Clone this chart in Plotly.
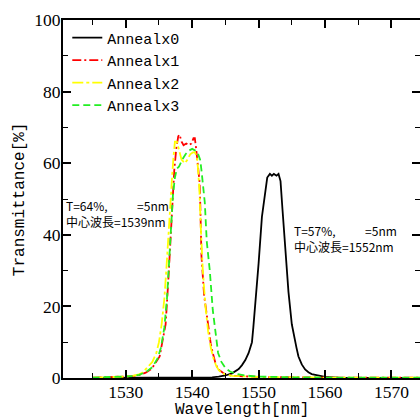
import plotly.graph_objects as go

# Annealx0 (black)
x0 = [1525, 1530, 1535, 1540, 1543, 1544, 1545, 1546, 1547, 1547.5, 1548, 1548.5, 1549, 1549.2, 1549.5,
      1550, 1550.5, 1551, 1551.3, 1551.7, 1552, 1552.3, 1552.7, 1553, 1553.3, 1553.6, 1554, 1554.5,
      1555, 1555.5, 1555.7, 1556, 1556.5, 1557, 1557.5, 1558, 1559, 1560, 1562, 1575]
y0 = [0.0, 0.0, 0.1, 0.1, 0.2, 0.4, 0.7, 1.3, 2.5, 3.6, 5.0, 7.0, 10.0, 14.0, 20.0,
      32.0, 45.0, 53.0, 56.0, 57.0, 56.5, 57.0, 56.5, 57.0, 55.0, 47.0, 36.0, 24.0,
      15.0, 11.0, 8.5, 6.0, 3.8, 2.4, 1.6, 1.1, 0.6, 0.3, 0.1, 0.0]

# Annealx1 (red)
x1 = [1525, 1528, 1530, 1531, 1532, 1533, 1533.9, 1534.7, 1535.1, 1535.6, 1536.0, 1536.4, 1536.7, 1537.0,
      1537.3, 1537.6, 1537.9, 1538.1, 1538.4, 1538.7, 1539.1, 1539.5, 1539.9, 1540.2, 1540.4, 1540.6,
      1540.9, 1541.1, 1541.2, 1541.4, 1541.8, 1542.4, 1542.8, 1543.1, 1543.5, 1543.9, 1544.5, 1545,
      1546, 1548, 1550, 1555, 1560, 1575]
y1 = [0.1, 0.2, 0.3, 0.5, 0.8, 1.5, 2.6, 5.0, 6.0, 11.0, 15.0, 27.0, 38.0, 50.0,
      58.0, 64.0, 67.5, 68.0, 66.0, 65.0, 65.5, 65.0, 65.5, 67.0, 67.0, 64.0,
      59.0, 55.0, 50.0, 34.0, 23.0, 14.0, 9.5, 7.0, 4.2, 2.4, 1.5, 1.0,
      0.6, 0.4, 0.3, 0.2, 0.1, 0.1]

# Annealx2 (yellow)
x2 = [1525, 1528, 1530, 1531, 1532, 1532.6, 1533.2, 1534.0, 1534.6, 1535.0, 1535.4, 1535.8, 1536.1, 1536.4,
      1536.7, 1537.0, 1537.2, 1537.4, 1537.7, 1538.0, 1538.4, 1538.9, 1539.3, 1539.7, 1540.1, 1540.4,
      1540.7, 1540.9, 1541.1, 1541.3, 1541.6, 1542.0, 1542.4, 1542.8, 1543.2, 1543.6, 1544.0, 1544.5,
      1545, 1546, 1548, 1550, 1555, 1560, 1575]
y2 = [0.1, 0.2, 0.4, 0.6, 1.0, 1.6, 2.8, 4.5, 7.0, 10.0, 15.0, 22.0, 30.0, 40.0,
      50.0, 57.0, 62.0, 66.0, 66.0, 64.0, 61.0, 60.0, 61.0, 62.5, 63.0, 63.0,
      62.0, 58.0, 52.0, 42.0, 30.0, 20.0, 13.0, 8.5, 5.5, 3.5, 2.2, 1.4,
      1.0, 0.6, 0.4, 0.3, 0.2, 0.1, 0.1]

# Annealx3 (green)
x3 = [1525, 1528, 1530, 1531, 1532, 1533, 1534, 1534.8, 1535.3, 1535.8, 1536.2, 1536.5, 1536.8, 1537.1,
      1537.4, 1537.7, 1538.0, 1538.5, 1539.0, 1539.5, 1540.0, 1540.5, 1540.9, 1541.2, 1541.4, 1541.9,
      1542.2, 1542.65, 1543.1, 1543.55, 1543.9, 1544.4, 1545.0, 1545.7, 1546.5, 1548, 1550, 1555, 1560, 1575]
y3 = [0.1, 0.2, 0.3, 0.5, 0.9, 1.6, 3.0, 5.5, 8.5, 14.0, 22.0, 31.0, 42.0, 51.0,
      56.0, 58.5, 59.0, 61.0, 62.5, 63.5, 64.0, 63.5, 62.5, 61.0, 58.0, 49.0,
      38.0, 30.0, 19.0, 12.6, 7.0, 4.5, 2.8, 1.8, 1.2, 0.7, 0.4, 0.2, 0.1, 0.1]

names = ["Annealx0", "Annealx1", "Annealx2", "Annealx3"]
colors = ["#000000", "#ff0000", "#ffff00", "#22ee22"]
dashes = ["solid", "9px,3px,2px,3px", "11px,3px,3px,3px", "7px,4px"]

x_ticks = [1530, 1540, 1550, 1560, 1570]
y_ticks = [0, 20, 40, 60, 80, 100]

fig = go.Figure()
for xs, ys, n, c, d in zip([x0, x1, x2, x3], [y0, y1, y2, y3], names, colors, dashes):
    fig.add_trace(go.Scatter(x=xs, y=ys, mode="lines", name=n,
                             line=dict(color=c, width=1.8, dash=d)))

tickfont = dict(family="Liberation Serif", size=17.5, color="#000")
titlefont = dict(family="Liberation Mono", size=16, color="#000")

fig.update_xaxes(range=[1520.55, 1574.3], tickvals=x_ticks, ticktext=[str(v) for v in x_ticks],
                 ticks="inside", ticklen=8, tickwidth=1.5, tickcolor="#000",
                 minor=dict(dtick=5, tick0=1520, ticks="inside", ticklen=5, tickwidth=1.2, tickcolor="#000"),
                 showline=True, linecolor="#000", linewidth=2, mirror="ticks",
                 showgrid=False, zeroline=False, tickfont=tickfont, automargin=False,
                 ticklabelstandoff=-3)
fig.update_yaxes(range=[0, 100], tickvals=y_ticks, ticktext=[str(v) for v in y_ticks],
                 ticks="inside", ticklen=8, tickwidth=1.5, tickcolor="#000",
                 minor=dict(dtick=10, tick0=0, ticks="inside", ticklen=5, tickwidth=1.2, tickcolor="#000"),
                 showline=True, linecolor="#000", linewidth=2, mirror="ticks",
                 showgrid=False, zeroline=False, tickfont=tickfont, automargin=False,
                 ticklabelstandoff=-3)

# axis titles
fig.add_annotation(xref="paper", yref="paper", x=0.5, y=-0.089, text="Wavelength[nm]",
                   showarrow=False, xanchor="center", yanchor="middle", font=titlefont)
fig.add_annotation(xref="paper", yref="paper", x=-0.12, y=0.5, text="Transmittance[%]",
                   showarrow=False, xanchor="center", yanchor="middle", textangle=-90, font=titlefont)

annfont = dict(family="Noto Sans CJK JP", size=12, color="#000")
nb = "\u00a0"
ann = [
    ("T=64%," + nb * 11 + "=5nm<br>中心波長=1539nm", 1520.8, 45.95),
    ("T=57%," + nb * 11 + "=5nm<br>中心波長=1552nm", 1555.2, 38.9),
]
for t, ax, ay in ann:
    fig.add_annotation(x=ax, y=ay, text=t, showarrow=False, xanchor="left", yanchor="middle",
                       align="left", font=annfont, borderpad=0)

fig.update_layout(width=420, height=418, margin=dict(l=63, r=0, t=20, b=40),
                  paper_bgcolor="white", plot_bgcolor="white",
                  legend=dict(x=0.012, y=0.996, xanchor="left", yanchor="top",
                              font=dict(family="Liberation Mono", size=15, color="#000"),
                              bgcolor="rgba(0,0,0,0)", tracegroupgap=0))
fig.write_html("out.html", config={"displayModeBar": False},
               post_script="document.body.style.margin='0';document.body.style.overflow='hidden';")
